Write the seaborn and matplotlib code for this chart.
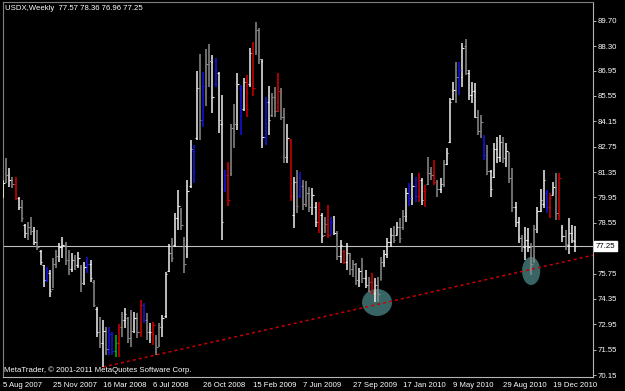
import matplotlib
matplotlib.use("Agg")
import matplotlib.pyplot as plt
import seaborn as sns
import pandas as pd
from matplotlib.patches import Ellipse
from matplotlib.transforms import blended_transform_factory

# ---------------- data ----------------
symbol_title = "USDX,Weekly  77.57 78.36 76.96 77.25"
copyright_text = "MetaTrader, \u00a9 2001-2011 MetaQuotes Software Corp."
weeks = pd.date_range("2007-08-05", periods=184, freq="7D")

highs = [80.91, 82.12, 81.55, 81.05, 81.10, 79.95, 79.80, 78.50, 78.60, 78.85,
         78.30, 78.15, 77.05, 76.21, 76.10, 75.94, 76.60, 77.04, 77.43, 77.76,
         77.49, 77.04, 76.88, 76.77, 76.93, 76.21, 76.38, 76.65, 76.49, 75.39,
         73.90, 73.35, 73.18, 72.80, 72.80, 72.52, 72.35, 72.95, 73.62, 73.84,
         73.37, 73.73, 73.62, 73.56, 74.29, 74.12, 73.56, 73.00, 73.09, 72.35,
         73.00, 73.45, 75.85, 77.38, 77.70, 79.08, 80.35, 79.36, 77.75, 80.91,
         83.12, 82.85, 86.92, 87.86, 86.87, 88.13, 88.41, 87.80, 87.64, 86.87,
         85.60, 81.46, 81.90, 84.00, 85.10, 86.82, 86.15, 86.54, 86.70, 88.19,
         88.52, 89.63, 89.30, 87.59, 85.49, 86.10, 85.71, 86.04, 86.82, 85.98,
         84.88, 84.00, 83.17, 81.07, 81.46, 81.35, 80.90, 80.86, 80.52, 80.46,
         79.69, 79.69, 79.08, 78.86, 79.52, 78.86, 78.90, 78.08, 77.60, 77.04,
         77.43, 76.88, 76.49, 76.33, 76.05, 76.60, 75.94, 75.55, 75.77, 75.50,
         75.55, 76.65, 77.04, 77.70, 78.25, 78.36, 78.58, 78.80, 79.25, 80.46,
         80.74, 81.30, 81.07, 81.30, 81.02, 80.63, 82.18, 81.62, 82.00, 80.91,
         81.00, 82.00, 82.66, 85.43, 86.32, 87.42, 87.42, 88.47, 88.69, 86.98,
         86.32, 86.26, 84.77, 84.49, 83.39, 82.85, 81.46, 82.95, 83.28, 83.39,
         83.28, 82.95, 82.45, 81.57, 79.69, 78.86, 77.87, 78.31, 78.25, 77.43,
         78.43, 79.41, 80.40, 81.46, 80.35, 80.19, 80.80, 81.30, 81.30, 78.43,
         78.15, 78.81, 78.43, 78.36]

lows = [79.91, 80.74, 80.50, 80.45, 79.80, 79.25, 78.60, 77.70, 77.60, 77.85,
        77.30, 77.05, 76.20, 75.00, 75.28, 74.45, 74.95, 76.05, 76.38, 76.60,
        76.22, 75.67, 75.83, 75.94, 76.05, 74.73, 75.11, 75.77, 75.28, 73.90,
        72.24, 71.64, 70.59, 71.25, 71.25, 71.25, 71.13, 71.13, 72.26, 72.73,
        71.90, 71.70, 72.45, 72.20, 72.26, 73.00, 72.08, 71.90, 71.80, 71.25,
        71.70, 72.26, 73.28, 75.83, 76.38, 77.21, 78.15, 78.15, 75.77, 76.60,
        80.47, 80.74, 83.12, 83.12, 83.84, 84.98, 86.04, 84.60, 86.04, 83.50,
        77.60, 80.25, 79.47, 81.13, 82.66, 83.67, 83.40, 84.71, 84.38, 86.04,
        85.54, 87.80, 87.30, 82.66, 82.85, 83.40, 84.38, 84.38, 84.66, 84.22,
        81.84, 81.84, 79.74, 78.25, 79.08, 79.90, 79.25, 79.41, 79.14, 78.97,
        78.30, 78.00, 77.43, 77.97, 77.70, 77.86, 77.86, 76.49, 76.33, 76.27,
        75.94, 75.67, 75.55, 75.11, 75.00, 75.22, 74.95, 74.72, 74.61, 74.17,
        74.17, 75.39, 76.10, 76.60, 77.21, 77.43, 77.86, 77.43, 78.15, 78.59,
        79.47, 79.52, 79.69, 79.69, 79.52, 79.41, 80.63, 80.91, 80.63, 79.97,
        80.18, 80.52, 81.73, 82.95, 85.32, 85.16, 85.60, 86.04, 86.70, 85.32,
        85.16, 84.33, 83.39, 83.23, 82.01, 81.18, 79.97, 81.02, 81.84, 81.90,
        81.84, 81.62, 80.74, 79.14, 78.30, 77.43, 76.93, 76.49, 76.93, 75.67,
        76.38, 77.97, 79.15, 79.36, 79.08, 78.81, 80.07, 78.70, 78.70, 77.50,
        77.04, 76.80, 77.43, 76.96]

opens = [80.10, 80.80, 81.20, 80.90, 80.70, 79.90, 79.40, 78.40, 78.00, 78.30,
         78.10, 77.50, 77.00, 76.20, 75.40, 75.80, 74.90, 76.30, 76.70, 77.20,
         77.30, 76.50, 76.00, 76.50, 76.20, 76.10, 75.20, 76.10, 76.30, 75.30,
         73.80, 72.50, 71.90, 72.60, 71.60, 72.40, 71.50, 71.90, 72.80, 73.20,
         73.30, 72.20, 72.60, 73.30, 72.50, 74.00, 73.20, 72.50, 72.40, 72.20,
         71.80, 72.80, 73.40, 75.90, 76.90, 77.30, 78.80, 79.20, 77.60, 76.80,
         80.60, 82.50, 83.20, 86.00, 84.20, 86.10, 87.30, 87.40, 86.20, 86.80,
         84.00, 80.40, 81.20, 81.30, 83.80, 84.00, 86.00, 84.80, 86.30, 86.20,
         87.90, 88.00, 89.20, 87.50, 83.30, 85.20, 84.50, 85.50, 84.70, 85.80,
         84.40, 82.20, 83.10, 79.00, 80.80, 80.00, 80.60, 79.60, 80.20, 79.40,
         79.40, 78.60, 79.00, 77.90, 78.50, 77.90, 78.60, 77.90, 76.70, 77.00,
         76.40, 76.90, 76.00, 76.30, 75.40, 75.90, 75.50, 75.10, 75.30, 74.70,
         75.10, 75.40, 76.40, 76.80, 77.50, 77.90, 77.90, 78.30, 78.30, 78.90,
         80.20, 79.90, 80.60, 80.00, 80.90, 80.30, 80.70, 81.30, 81.20, 80.80,
         80.40, 80.70, 81.80, 83.00, 85.40, 85.90, 86.20, 86.60, 88.30, 86.80,
         85.60, 85.80, 84.40, 83.60, 83.30, 82.30, 81.40, 81.10, 82.60, 82.20,
         83.00, 82.10, 82.40, 81.00, 79.40, 78.60, 77.70, 77.20, 77.60, 77.20,
         76.40, 78.20, 79.20, 79.60, 80.20, 79.40, 80.10, 80.50, 79.00, 78.30,
         77.80, 77.30, 78.00, 77.57]

closes = [80.75, 81.20, 80.90, 80.70, 79.90, 79.40, 78.80, 78.00, 78.30, 78.10,
          77.50, 77.20, 76.40, 75.40, 75.90, 74.80, 76.30, 76.70, 77.20, 77.30,
          76.50, 76.00, 76.50, 76.20, 76.60, 75.20, 76.10, 76.30, 75.50, 74.00,
          72.50, 71.90, 72.60, 71.60, 72.40, 71.50, 71.90, 72.80, 73.20, 73.50,
          72.20, 72.60, 73.30, 72.50, 74.00, 73.20, 72.50, 72.50, 72.90, 71.70,
          72.80, 73.30, 75.70, 76.90, 76.60, 78.80, 79.50, 78.40, 76.30, 80.30,
          82.60, 81.40, 86.00, 84.20, 86.10, 87.30, 87.50, 85.50, 87.00, 84.20,
          78.60, 81.20, 79.80, 83.80, 84.00, 86.20, 84.50, 86.30, 84.80, 87.90,
          86.00, 89.20, 87.60, 83.30, 85.20, 84.20, 85.50, 84.70, 85.80, 84.40,
          82.20, 83.20, 80.00, 80.80, 79.50, 80.60, 79.60, 80.20, 79.40, 80.10,
          78.60, 79.30, 77.80, 78.50, 77.90, 78.60, 78.00, 76.70, 77.30, 76.40,
          76.90, 76.00, 76.30, 75.40, 75.90, 75.50, 75.10, 75.30, 74.70, 75.10,
          74.60, 76.40, 76.80, 77.50, 77.90, 77.60, 78.30, 77.70, 78.90, 80.20,
          79.90, 80.60, 80.00, 80.90, 79.80, 80.40, 81.30, 81.20, 80.80, 80.40,
          80.70, 81.80, 82.40, 85.20, 85.90, 86.60, 87.00, 88.20, 87.00, 85.60,
          85.80, 84.40, 83.60, 84.10, 82.30, 81.40, 80.40, 82.60, 82.20, 83.00,
          82.10, 82.50, 81.00, 79.40, 78.60, 77.70, 77.20, 77.60, 77.20, 76.30,
          78.20, 79.20, 79.80, 80.90, 79.40, 79.90, 80.50, 79.10, 81.00, 77.80,
          77.40, 78.00, 77.60, 77.25]

bar_kind = list("wgwgrwgwgg" "wgwwbwggww" "ggwgwgwbwg" "wgwgbbergw"
                "ggwgrbgwrg" "gwwwgwwggw" "wbwgbggwbw" "wbrggwbwrw"
                "rggwbwggrg" "gwrwgbgggw" "wrwgrbwgwr" "wgggwgwgrw"
                "ggwwwgwggw" "bwbrwrggrg" "wgwwwgbwgw" "wwggbgwwww"
                "gwggwwgwwg" "gwwwbrwgrw" "gwww")

price_ticks = [89.70, 88.30, 86.95, 85.55, 84.15, 82.75, 81.35, 79.95, 78.55,
               75.75, 74.35, 72.95, 71.55, 70.15]
last_price = 77.25

# trend line anchors (bar index, price)
trend_idx = [32, 182]
trend_price = [70.59, 76.49]

# highlighted zones (bar index, price)
zone_idx = [119.7, 169.0]
zone_price = [74.15, 75.89]

# ---------------- style ----------------
W, H = 625, 391
sns.set_style("dark", {"axes.facecolor": "black", "figure.facecolor": "black",
                       "axes.grid": False})
plt.rcParams["font.family"] = ["Liberation Sans", "DejaVu Sans"]
FS = 5.6

col_map = {"w": "#f0f0f0", "g": "#8c8c8c", "b": "#1414e6", "r": "#d80000",
           "e": "#00c000"}

fig = plt.figure(figsize=(W / 100, H / 100), dpi=100)
fig.patch.set_facecolor("black")
ax = fig.add_axes([2.5 / W, 14 / H, 590.5 / W, 375 / H])
ax.set_facecolor("black")

n = len(highs)
xs = list(range(n))
x_right = 188.8
ax.set_xlim(-0.16, x_right)
ax.set_ylim(70.04, 90.73)

# zones
for cx, cy, w_, h_ in zip(zone_idx, zone_price, [9.6, 5.8], [1.49, 1.55]):
    ax.add_patch(Ellipse((cx, cy), w_, h_, facecolor="#386464",
                         edgecolor="none", zorder=1))

# last price line
ax.axhline(last_price, color="#c0c0c0", lw=0.8, zorder=2)

# trend line, extended to the right edge
slope = (trend_price[1] - trend_price[0]) / (trend_idx[1] - trend_idx[0])
tx = [trend_idx[0], x_right]
ty = [trend_price[0], trend_price[0] + slope * (x_right - trend_idx[0])]
sns.lineplot(x=tx, y=ty, ax=ax, color="#c80000", lw=1.1,
             linestyle=(0, (2, 2)), zorder=3)

# OHLC bars
colors = [col_map[k] for k in bar_kind]
ax.vlines(xs, lows, highs, colors=colors, lw=1.1, zorder=4)
ax.hlines(opens, [x - 0.5 for x in xs], xs, colors=colors, lw=0.8, zorder=4)
ax.hlines(closes, xs, [x + 0.5 for x in xs], colors=colors, lw=0.8, zorder=4)

# axes / ticks
for s in ["top", "left"]:
    ax.spines[s].set_color("#808080")
for s in ["right", "bottom"]:
    ax.spines[s].set_color("#b4b4b4")
for s in ax.spines.values():
    s.set_linewidth(0.8)

ax.yaxis.tick_right()
ax.set_yticks(price_ticks)
ax.set_yticklabels([f"{p:.2f}" for p in price_ticks])
ax.tick_params(axis="y", colors="#b4b4b4", labelcolor="white", length=2.2,
               width=0.7, pad=0.8, labelsize=FS, direction="out")

tick_pos = list(range(0, n, 16))
ax.set_xticks(tick_pos)
ax.set_xticklabels([f"{weeks[i].day} {weeks[i].strftime('%b %Y')}" for i in tick_pos])
ax.tick_params(axis="x", colors="#b4b4b4", labelcolor="white", length=2.5,
               width=0.7, pad=1.0, labelsize=FS, direction="out")
for lab in ax.get_xticklabels():
    lab.set_horizontalalignment("left")
ax.set_xlabel("")
ax.set_ylabel("")
ax.grid(False)

# current price box
tr = blended_transform_factory(fig.transFigure, ax.transData)
ax.text(596 / W, last_price, f"{last_price:.2f}", transform=tr, color="black",
        fontsize=FS, va="center", ha="left", zorder=6, clip_on=False,
        bbox=dict(boxstyle="square,pad=0.2", fc="white", ec="white"))

fig.text(5 / W, 1 - 8 / H, symbol_title, color="white", fontsize=FS,
         va="center", ha="left")
fig.text(4 / W, 1 - 370 / H, copyright_text, color="white", fontsize=FS,
         va="center", ha="left")

fig.savefig("out.png", dpi=100, facecolor="black")
